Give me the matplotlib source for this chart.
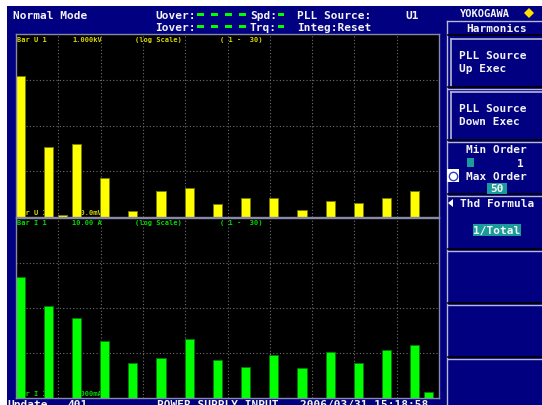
import numpy as np
import matplotlib
matplotlib.use('Agg')
import matplotlib.pyplot as plt
from matplotlib.patches import Rectangle, Polygon
from matplotlib.lines import Line2D
from matplotlib.ticker import NullLocator

W, H = 542, 406

orders_u = [1, 3, 4, 5, 7, 9, 11, 13, 15, 17, 19, 21, 23, 25, 27, 29]
volts_u = [119, 3.44, 0.112, 3.88, 0.70, 0.137, 0.376, 0.43, 0.19, 0.256,
           0.256, 0.144, 0.227, 0.202, 0.256, 0.376]
orders_i = [1, 3, 5, 7, 9, 11, 13, 15, 17, 19, 21, 23, 25, 27, 29, 30]
amps_i = [0.499, 0.111, 0.0612, 0.0189, 0.00612, 0.0079, 0.0201, 0.00699,
          0.00499, 0.0092, 0.00474, 0.0104, 0.00612, 0.0119, 0.0154, 0.00134]

NAVY = '#000080'
LIGHT = '#b8b8d8'
TEAL = '#1a9c9c'
MONO = 'DejaVu Sans Mono'

fig = plt.figure(figsize=(W / 100, H / 100), dpi=100)
fig.patch.set_facecolor('white')


def fx(x):
    return x / W


def fy(y):
    return 1 - y / H


def box(x0, y0, x1, y1, color, z=0.1, ec='none'):
    fig.add_artist(Rectangle((fx(x0), fy(y1)), (x1 - x0) / W, (y1 - y0) / H,
                             transform=fig.transFigure, facecolor=color,
                             edgecolor=ec, zorder=z))


def line(x0, y0, x1, y1, color, lw=0.8):
    fig.add_artist(Line2D([fx(x0), fx(x1)], [fy(y0), fy(y1)],
                          transform=fig.transFigure, color=color, lw=lw, zorder=0.3))


def txt(x, y, s, size=8, color='#f4f4f4', ha='left', va='center'):
    fig.text(fx(x), fy(y), s, fontsize=size, color=color, family=MONO,
             weight='bold', ha=ha, va=va, zorder=2)


# screen background
box(7, 7, W, H, NAVY, z=0)

# top status line
txt(13, 16, 'Normal Mode')
txt(155, 16, 'Uover:')
txt(155, 28, 'Iover:')
for row in (16, 28):
    for dx in (197, 211, 225, 239):
        box(dx, row - 2, dx + 7, row + 1, '#00ff00', z=1)
    box(278, row - 2, 284, row + 1, '#00ff00', z=1)
txt(250, 16, 'Spd:')
txt(250, 28, 'Trq:')
txt(297, 16, 'PLL Source:')
txt(405, 16, 'U1')
txt(297, 28, 'Integ:Reset')
txt(460, 14, 'YOKOGAWA', size=7.5)
fig.add_artist(Polygon([[fx(529), fy(9)], [fx(534), fy(14)], [fx(529), fy(19)], [fx(524), fy(14)]],
                       closed=True, transform=fig.transFigure, facecolor='#ffe000',
                       edgecolor='none', zorder=2))

# right soft-key panel
line(447, 22, 542, 22, LIGHT, 1)
line(447, 22, 447, 406, LIGHT, 1)
txt(497, 29, 'Harmonics', ha='center')
line(448, 36, 542, 36, 'black', 1.2)
for y0, y1, l1, l2 in ((40, 87, 'PLL Source', 'Up Exec'), (93, 140, 'PLL Source', 'Down Exec')):
    line(451, y0, 542, y0, LIGHT, 1.2)
    line(451, y0, 451, y1, LIGHT, 1.2)
    txt(459, y0 + 16, l1)
    txt(459, y0 + 29, l2)
for ys in (88, 141, 195, 250, 304, 358):
    line(448, ys, 542, ys, 'black', 1.2)
    line(448, ys + 2, 542, ys + 2, LIGHT, 1)
txt(466, 150, 'Min Order')
box(467, 159, 474, 168, TEAL, z=1)
txt(517, 164, '1')
box(447, 170, 459, 183, 'white', z=1)
fig.add_artist(Line2D([fx(453)], [fy(176.5)], marker='o', markersize=6, markerfacecolor='none',
                      markeredgecolor='#3040c0', transform=fig.transFigure, zorder=2))
txt(466, 177, 'Max Order')
box(487, 184, 507, 195, TEAL, z=1)
txt(497, 189.5, '50', ha='center')
fig.add_artist(Polygon([[fx(448), fy(204)], [fx(453), fy(200)], [fx(453), fy(208)]], closed=True,
                       transform=fig.transFigure, facecolor='white', edgecolor='none', zorder=2))
txt(460, 204, 'Thd Formula')
box(473, 225, 521, 237, TEAL, z=1)
txt(497, 231, '1/Total', ha='center')

# bottom status line (cut off by the screen edge, as on the instrument)
for x, s in ((7, 'Update'), (67, '401'), (157, 'POWER SUPPLY INPUT'), (300, '2006/03/31 15:18:58')):
    txt(x, 400.5, s, va='top')

# bar graph panels
x_lo = 1 - 4 / 14.1
x_hi = x_lo + 30


def panel(top, bottom, orders, vals, ylim, yticks, color, edge, labels):
    ax = fig.add_axes([fx(16), fy(bottom), (439 - 16) / W, (bottom - top) / H])
    ax.set_facecolor('black')
    ax.set_yscale('log')
    ax.set_xlim(x_lo, x_hi)
    ax.set_ylim(*ylim)
    ax.set_xticks(np.linspace(x_lo, x_hi, 11)[1:-1])
    ax.set_yticks(yticks)
    ax.yaxis.set_minor_locator(NullLocator())
    ax.tick_params(length=0, labelbottom=False, labelleft=False)
    ax.set_axisbelow(True)
    ax.grid(True, color='#6e6e6e', linestyle=(0, (1, 2)), linewidth=0.8)
    for sp in ax.spines.values():
        sp.set_color('#8888a8')
        sp.set_linewidth(1)
    heights = [v - ylim[0] for v in vals]
    ax.bar(orders, heights, width=0.64, bottom=ylim[0], color=color, edgecolor=edge,
           linewidth=0.7, zorder=2)
    for x, y, s in labels:
        ax.text(fx(x), fy(y), s, transform=fig.transFigure, fontsize=5, color=color,
                family=MONO, weight='bold', va='center', zorder=1, alpha=0.85)
    return ax


panel(35, 218, orders_u, volts_u, (0.1, 1000), [1, 10, 100], '#ffff00', '#7a7a00',
      [(17, 40, 'Bar U 1'), (72, 40, '1.000kV'), (135, 40, '(log Scale)'), (220, 40, '( 1 -  30)'),
       (17, 213, 'Bar U 1'), (72, 213, '100.0mV')])
panel(219, 399, orders_i, amps_i, (0.001, 10), [0.01, 0.1, 1], '#00ff00', '#007a00',
      [(17, 223, 'Bar I 1'), (72, 223, '10.00 A'), (135, 223, '(log Scale)'), (220, 223, '( 1 -  30)'),
       (17, 394, 'Bar I 1'), (72, 394, '1.000mA')])

fig.savefig('out.png', dpi=100, facecolor=fig.get_facecolor())
